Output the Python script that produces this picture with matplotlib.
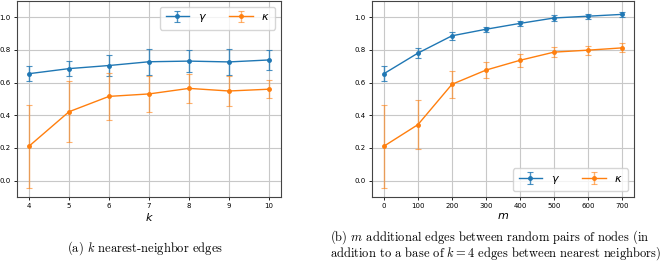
import matplotlib
matplotlib.use("Agg")
import matplotlib.pyplot as plt
from matplotlib.colors import to_rgba

plt.rcParams['mathtext.fontset'] = 'dejavusans'

# panel (a): k nearest-neighbor edges
k_vals = [4, 5, 6, 7, 8, 9, 10]
gamma_k = [0.655, 0.686, 0.705, 0.728, 0.732, 0.727, 0.739]
gamma_k_err = [0.045, 0.045, 0.063, 0.080, 0.067, 0.078, 0.062]
kappa_k = [0.211, 0.422, 0.516, 0.531, 0.565, 0.549, 0.560]
kappa_k_err = [0.254, 0.186, 0.146, 0.112, 0.088, 0.093, 0.056]

# panel (b): m additional random edges
m_vals = [0, 100, 200, 300, 400, 500, 600, 700]
gamma_m = [0.655, 0.781, 0.887, 0.927, 0.963, 0.996, 1.007, 1.018]
gamma_m_err = [0.045, 0.031, 0.025, 0.016, 0.017, 0.020, 0.015, 0.016]
kappa_m = [0.211, 0.343, 0.590, 0.677, 0.737, 0.787, 0.799, 0.813]
kappa_m_err = [0.254, 0.148, 0.082, 0.051, 0.040, 0.032, 0.027, 0.028]

blue = '#1f77b4'
orange = '#ff7f0e'

fig = plt.figure(figsize=(6.69, 2.63), dpi=100)
ax1 = fig.add_axes([17 / 669, 1 - 197 / 263, 264 / 669, 196 / 263])
ax2 = fig.add_axes([372 / 669, 1 - 197 / 263, 262 / 669, 196 / 263])


def draw(ax, x, g, ge, kp, ke, loc, xlabel):
    ax.errorbar(x, g, yerr=ge, color=blue, ecolor=to_rgba(blue, 0.8), marker='o',
                ms=2.5, lw=1, elinewidth=1, capsize=2, capthick=0.8, label=r'$\gamma$')
    ax.errorbar(x, kp, yerr=ke, color=orange, ecolor=to_rgba(orange, 0.6), marker='o',
                ms=2.5, lw=1, elinewidth=1, capsize=2, capthick=0.8, label=r'$\kappa$')
    ax.set_ylim(-0.1, 1.1)
    ax.set_xticks(x)
    ax.set_yticks([0.0, 0.2, 0.4, 0.6, 0.8, 1.0])
    ax.grid(True, color='#c8c8c8', lw=0.8)
    ax.tick_params(labelsize=5, length=2.5, width=0.6, pad=2)
    for s in ax.spines.values():
        s.set_linewidth(0.8)
        s.set_color('#444444')
    ax.set_xlabel(xlabel, fontsize=8, labelpad=1)
    ax.legend(loc=loc, ncol=2, fontsize=8, handlelength=2.1, columnspacing=2.0,
              handletextpad=0.8, borderpad=0.5, framealpha=0.8)


draw(ax1, k_vals, gamma_k, gamma_k_err, kappa_k, kappa_k_err, 'upper right', r'$k$')
draw(ax2, m_vals, gamma_m, gamma_m_err, kappa_m, kappa_m_err, 'lower right', r'$m$')

cap = dict(family='cmr10', fontsize=9.0, math_fontfamily='cm')
fig.text(145 / 669, 1 - 248 / 263, r'(a) $k$ nearest-neighbor edges',
         ha='center', va='center', **cap)
fig.text(330 / 669, 1 - 245 / 263,
         '(b) $m$ additional edges between random pairs of nodes (in\n'
         'addition to a base of $k=4$ edges between nearest neighbors)',
         ha='left', va='center', linespacing=0.95, **cap)

fig.savefig('out.png', dpi=100)
